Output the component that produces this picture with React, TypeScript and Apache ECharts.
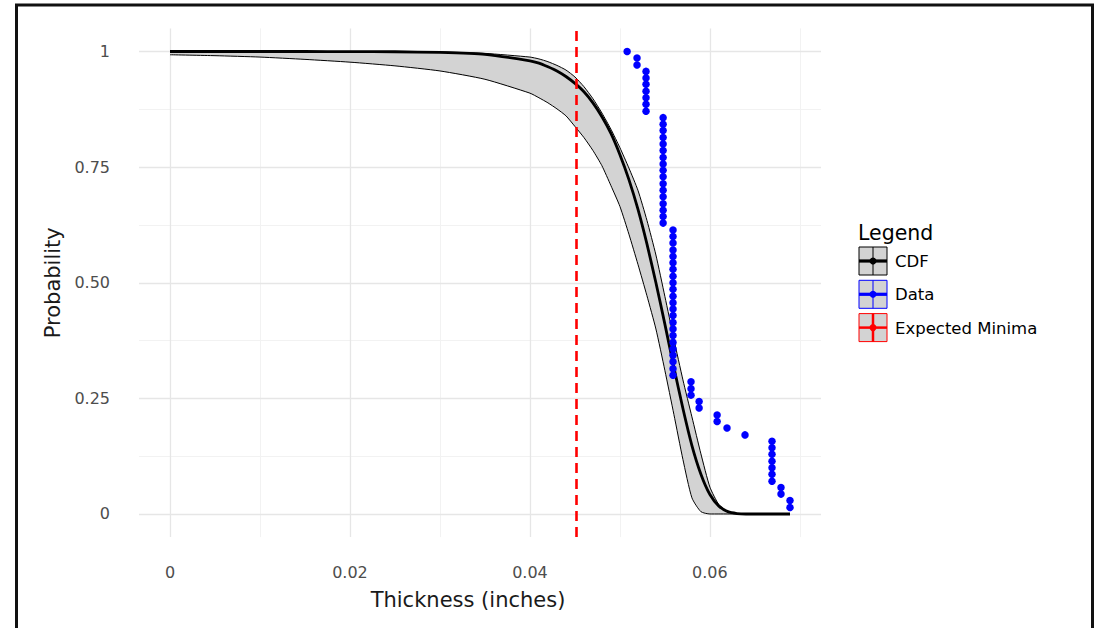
import React, { useEffect, useRef } from 'react';
import * as echarts from 'echarts';

// Axis ticks
const xTicks = [0, 0.02, 0.04, 0.06];
const xMinorTicks = [0.01, 0.03, 0.05, 0.07];
const yTicks = [0, 0.25, 0.5, 0.75, 1];
const yMinorTicks = [0.125, 0.375, 0.625, 0.875];
const yTickLabels = ['0', '0.25', '0.50', '0.75', '1'];
const xRange = [-0.003445, 0.072345];
const yRange = [-0.05, 1.05];

// CDF curve with its confidence band
const cdfX = [0, 0.005, 0.01, 0.015, 0.02, 0.025, 0.03, 0.035, 0.04, 0.041, 0.042, 0.043, 0.044, 0.045, 0.046, 0.047, 0.048, 0.049, 0.05, 0.051, 0.052, 0.053, 0.054, 0.055, 0.056, 0.057, 0.058, 0.059, 0.06, 0.061, 0.062, 0.063, 0.064, 0.066, 0.0689];
const cdfCenter = [1.0, 1.0, 1.0, 1.0, 0.9999, 0.9995, 0.998, 0.994, 0.98, 0.975, 0.967, 0.958, 0.946, 0.931, 0.913, 0.889, 0.859, 0.823, 0.777, 0.723, 0.659, 0.584, 0.5, 0.41, 0.317, 0.228, 0.148, 0.086, 0.042, 0.017, 0.005, 0.001, 0, 0, 0];
const cdfLower = [0.993, 0.991, 0.988, 0.983, 0.977, 0.969, 0.958, 0.94, 0.91, 0.9, 0.889, 0.876, 0.861, 0.838, 0.814, 0.786, 0.753, 0.71, 0.665, 0.605, 0.54, 0.472, 0.4, 0.31, 0.215, 0.118, 0.035, 0.005, 0, 0, 0, 0, 0, 0, 0];
const cdfUpper = [1.0, 1.0, 1.0, 1.0, 1.0, 0.9995, 0.999, 0.996, 0.988, 0.984, 0.978, 0.97, 0.96, 0.945, 0.924, 0.898, 0.867, 0.832, 0.792, 0.748, 0.7, 0.635, 0.56, 0.47, 0.378, 0.29, 0.21, 0.13, 0.058, 0.02, 0.005, 0.001, 0, 0, 0];

// Observed data points
const dataX = [
  0.0508,
  0.0519, 0.0519,
  0.0529, 0.0529, 0.0529, 0.0529, 0.0529, 0.0529, 0.0529,
  0.0548, 0.0548, 0.0548, 0.0548, 0.0548, 0.0548, 0.0548, 0.0548, 0.0548, 0.0548, 0.0548, 0.0548, 0.0548, 0.0548, 0.0548, 0.0548, 0.0548,
  0.0559, 0.0559, 0.0559, 0.0559, 0.0559, 0.0559, 0.0559, 0.0559, 0.0559, 0.0559, 0.0559, 0.0559, 0.0559, 0.0559, 0.0559, 0.0559, 0.0559, 0.0559, 0.0559, 0.0559, 0.0559, 0.0559, 0.0559,
  0.0579, 0.0579, 0.0579,
  0.0588, 0.0588,
  0.0608, 0.0608,
  0.0619,
  0.0639,
  0.0669, 0.0669, 0.0669, 0.0669, 0.0669, 0.0669, 0.0669,
  0.0679, 0.0679,
  0.0689, 0.0689,
];
const dataY = [
  1.0,
  0.986, 0.971,
  0.957, 0.943, 0.929, 0.914, 0.9, 0.886, 0.871,
  0.857, 0.843, 0.829, 0.814, 0.8, 0.786, 0.771, 0.757, 0.743, 0.729, 0.714, 0.7, 0.686, 0.671, 0.657, 0.643, 0.629,
  0.614, 0.6, 0.586, 0.571, 0.557, 0.543, 0.529, 0.514, 0.5, 0.486, 0.471, 0.457, 0.443, 0.429, 0.414, 0.4, 0.386, 0.371, 0.357, 0.343, 0.329, 0.314, 0.3,
  0.286, 0.271, 0.257,
  0.243, 0.229,
  0.214, 0.2,
  0.186,
  0.171,
  0.157, 0.143, 0.129, 0.114, 0.1, 0.086, 0.071,
  0.057, 0.043,
  0.029, 0.014,
];

const expectedMinima = 0.0452;

const legendTitle = 'Legend';
const legendNames = ['CDF', 'Data', 'Expected Minima'];
const legendColors = ['#000000', '#0000ff', '#ff0000'];

const FONT = 'DejaVu Sans';

export default function App() {
  const ref = useRef<HTMLDivElement>(null);

  useEffect(() => {
    if (!ref.current) return;
    const chart = echarts.init(ref.current, null, { renderer: 'svg' });

    const smooth = 0.2;
    const lowerPts = cdfX.map((x, i) => [x, cdfLower[i]]);
    const upperPts = cdfX.map((x, i) => [x, cdfUpper[i]]);
    const centerPts = cdfX.map((x, i) => [x, cdfCenter[i]]);
    const points = dataX.map((x, i) => [x, dataY[i]]);

    const gridLines = [
      ...xMinorTicks.map((v) => ({ xAxis: v, lineStyle: { color: '#f2f2f2', width: 1 } })),
      ...yMinorTicks.map((v) => ({ yAxis: v, lineStyle: { color: '#f2f2f2', width: 1 } })),
      ...xTicks.map((v) => ({ xAxis: v, lineStyle: { color: '#e6e6e6', width: 1.3 } })),
      ...yTicks.map((v) => ({ yAxis: v, lineStyle: { color: '#e6e6e6', width: 1.3 } })),
    ];

    const legendItems: any[] = [];
    legendNames.forEach((name, i) => {
      const top = 247 + i * 33.3;
      const left = 859;
      const size = 28;
      const c = legendColors[i];
      const isVline = i === 2;
      legendItems.push(
        { type: 'rect', shape: { x: left, y: top, width: size, height: size }, style: { fill: '#d3d3d3', stroke: c, lineWidth: 1 } },
        { type: 'line', shape: { x1: left + size / 2, y1: top, x2: left + size / 2, y2: top + size }, style: { stroke: c, lineWidth: isVline ? 2.5 : 1 } },
        { type: 'line', shape: { x1: left, y1: top + size / 2, x2: left + size, y2: top + size / 2 }, style: { stroke: c, lineWidth: isVline ? 2.5 : 3.2 } },
        { type: 'circle', shape: { cx: left + size / 2, cy: top + size / 2, r: 3.5 }, style: { fill: c } },
        { type: 'text', x: 895, y: top + size / 2 + 0.5, style: { text: name, fill: '#000', font: `16.5px "${FONT}"`, verticalAlign: 'middle', align: 'left' } },
      );
    });

    chart.setOption({
      animation: false,
      textStyle: { fontFamily: FONT },
      grid: { left: 139, right: 284, top: 28.4, bottom: 90.9, containLabel: false },
      xAxis: {
        type: 'value',
        min: xRange[0],
        max: xRange[1],
        axisLine: { show: false },
        axisTick: { show: false },
        splitLine: { show: false },
        axisLabel: {
          customValues: xTicks,
          color: '#4d4d4d',
          fontSize: 16,
          fontFamily: FONT,
          margin: 27,
          formatter: (v: number) => String(v),
        },
        name: 'Thickness (inches)',
        nameLocation: 'middle',
        nameGap: 52,
        nameTextStyle: { color: '#1a1a1a', fontSize: 21, fontFamily: FONT, padding: [0, 24, 0, 0] },
      },
      yAxis: {
        type: 'value',
        min: yRange[0],
        max: yRange[1],
        axisLine: { show: false },
        axisTick: { show: false },
        splitLine: { show: false },
        axisLabel: {
          customValues: yTicks,
          color: '#4d4d4d',
          fontSize: 16,
          fontFamily: FONT,
          margin: 29,
          formatter: (v: number) => {
            const k = yTicks.indexOf(v);
            return k >= 0 ? yTickLabels[k] : String(v);
          },
        },
        name: 'Probability',
        nameLocation: 'middle',
        nameGap: 75,
        nameTextStyle: { color: '#1a1a1a', fontSize: 21, fontFamily: FONT },
      },
      series: [
        {
          type: 'line',
          data: [],
          silent: true,
          markLine: {
            z: 1,
            silent: true,
            precision: 6,
            symbol: ['none', 'none'],
            label: { show: false },
            lineStyle: { type: 'solid' },
            data: gridLines,
          },
        },
        {
          type: 'custom',
          name: 'band',
          silent: true,
          z: 2,
          data: [[cdfX[0], cdfUpper[0]]],
          encode: { x: 0, y: 1 },
          renderItem: (_params: any, api: any) => {
            const pts: number[][] = [];
            for (let i = 0; i < cdfX.length; i++) pts.push(api.coord([cdfX[i], cdfUpper[i]]));
            for (let i = cdfX.length - 1; i >= 0; i--) pts.push(api.coord([cdfX[i], cdfLower[i]]));
            return { type: 'polygon', shape: { points: pts }, style: { fill: '#d3d3d3', stroke: 'none' } };
          },
        },
        {
          type: 'line',
          name: 'lowerEdge',
          data: lowerPts,
          smooth,
          symbol: 'none',
          silent: true,
          lineStyle: { color: '#000', width: 1 },
          z: 3,
        },
        {
          type: 'line',
          name: 'upperEdge',
          data: upperPts,
          smooth,
          symbol: 'none',
          silent: true,
          lineStyle: { color: '#000', width: 1 },
          z: 3,
        },
        {
          type: 'line',
          name: 'CDF',
          data: centerPts,
          smooth,
          symbol: 'none',
          lineStyle: { color: '#000', width: 2.8 },
          z: 4,
        },
        {
          type: 'scatter',
          name: 'Data',
          data: points,
          symbolSize: 7.5,
          itemStyle: { color: '#0000ff', opacity: 1 },
          z: 5,
          markLine: {
            z: 6,
            silent: true,
            precision: 6,
            symbol: ['none', 'none'],
            label: { show: false },
            lineStyle: { color: '#ff0000', width: 2.6, type: [10, 6] },
            data: [{ xAxis: expectedMinima }],
          },
        },
      ],
      graphic: [
        {
          type: 'rect',
          silent: true,
          shape: { x: 16.5, y: 5, width: 1076, height: 660 },
          style: { fill: 'none', stroke: '#111', lineWidth: 3 },
          z: 100,
        },
        {
          type: 'text',
          x: 858,
          y: 233,
          style: { text: legendTitle, fill: '#000', font: `20.5px "${FONT}"`, verticalAlign: 'middle', align: 'left' },
        },
        ...legendItems,
      ],
    });

    return () => chart.dispose();
  }, []);

  return (
    <div
      ref={ref}
      style={{ position: 'absolute', left: 0, top: 0, width: 1105, height: 628, background: '#fff' }}
    />
  );
}
